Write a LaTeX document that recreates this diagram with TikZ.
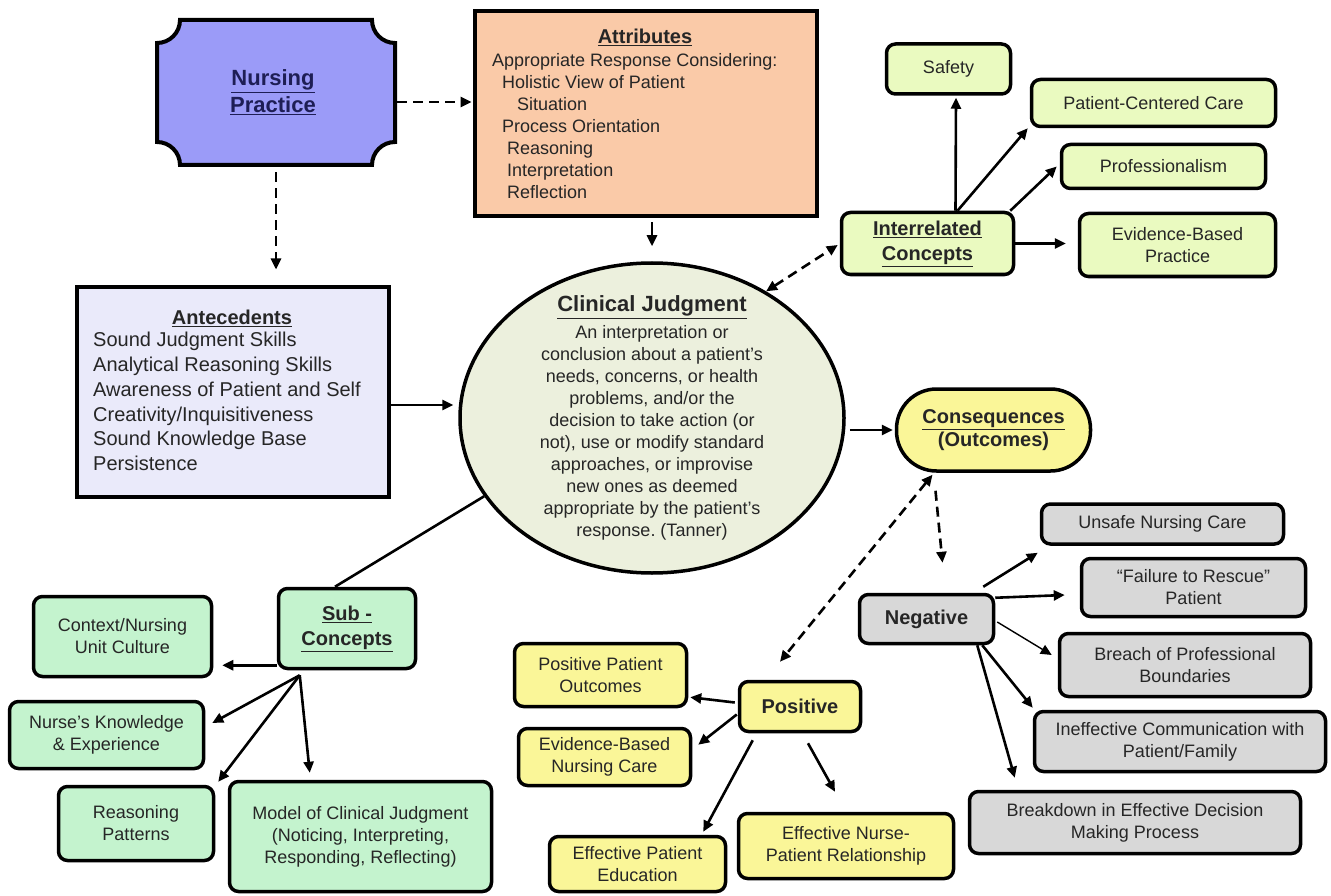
\documentclass[tikz,border=0pt]{standalone}
\usepackage{fontspec}
\setmainfont{Liberation Sans}
\usetikzlibrary{arrows.meta,calc,shapes.geometric}
\definecolor{npfill}{RGB}{155,155,248}
\definecolor{npt}{RGB}{30,30,85}
\definecolor{attrfill}{RGB}{250,202,168}
\definecolor{antfill}{RGB}{234,234,250}
\definecolor{cjfill}{RGB}{236,240,221}
\definecolor{icfill}{RGB}{234,250,192}
\definecolor{yfill}{RGB}{250,246,152}
\definecolor{gfill}{RGB}{216,216,216}
\definecolor{subfill}{RGB}{196,243,206}
\definecolor{tc}{RGB}{38,38,38}
\frenchspacing
\tikzset{
  bx/.style={draw=black, line width=3.5pt, rounded corners=9pt, text=tc,
    font=\fontsize{18}{22}\selectfont, align=center, inner sep=2pt},
  bxb/.style={bx, font=\fontsize{20}{24}\selectfont\bfseries},
  sqbox/.style={draw=black, line width=4pt, inner sep=0pt},
  txt/.style={text=tc, inner sep=0pt, font=\fontsize{18}{22}\selectfont},
  arr/.style={line width=2.6pt, -{Triangle[length=11pt,width=10pt]}},
  darr/.style={arr, dash pattern=on 10pt off 6pt},
  ddarr/.style={line width=2.6pt, dash pattern=on 10pt off 6pt,
    {Triangle[length=11pt,width=10pt]}-{Triangle[length=11pt,width=10pt]}}
}
\begin{document}
\begin{tikzpicture}[x=1pt,y=-1pt]
\useasboundingbox (0,0) rectangle (1331,896);
\fill[white] (0,0) rectangle (1331,896);

% Nursing Practice (plaque shape)
\filldraw[fill=npfill, draw=black, line width=4pt]
  (180,20) -- (372,20) .. controls (372,32.7) and (382.3,43) .. (395,43)
  -- (395,142) .. controls (382.3,142) and (372,152.3) .. (372,165)
  -- (180,165) .. controls (180,152.3) and (169.7,142) .. (157,142)
  -- (157,43) .. controls (169.7,43) and (180,32.7) .. (180,20) -- cycle;
\node[inner sep=0pt, minimum width=238pt, minimum height=145pt] (np) at (276,92.5) {};
\node[text=npt, inner sep=0pt, align=center, font=\fontsize{22}{27}\selectfont\bfseries] (nptext) at (273,92.5) {\underline{Nursing}\\\underline{Practice}};

% Attributes
\node[sqbox, fill=attrfill, minimum width=342pt, minimum height=205pt] (attr) at (645.5,114) {};
\node[txt, font=\fontsize{20}{24}\selectfont\bfseries] (attrtitle) at (645,37) {\underline{Attributes}};
\node[txt, anchor=north west, align=left] (attrbody) at (492,53) {Appropriate Response Considering:\\
\hspace*{10pt}Holistic View of Patient\\
\hspace*{25pt}Situation\\
\hspace*{10pt}Process Orientation\\
\hspace*{15pt}Reasoning\\
\hspace*{15pt}Interpretation\\
\hspace*{15pt}Reflection};

% Antecedents
\node[sqbox, fill=antfill, minimum width=312pt, minimum height=210pt] (ant) at (232.5,391.5) {};
\node[txt, font=\fontsize{20}{24}\selectfont\bfseries] (anttitle) at (232,318) {\underline{Antecedents}};
\node[txt, anchor=north west, align=left, font=\fontsize{20}{24.8}\selectfont] (antbody) at (93,332) {Sound Judgment Skills\\
Analytical Reasoning Skills\\
Awareness of Patient and Self\\
Creativity/Inquisitiveness\\
Sound Knowledge Base\\
Persistence};

% Clinical Judgment ellipse
\node[draw=black, ellipse, line width=3.5pt, fill=cjfill, minimum width=384pt, minimum height=310pt, inner sep=0pt] (cj) at (652,418) {};
\node[txt, font=\fontsize{22}{26}\selectfont\bfseries] (cjtitle) at (652,307) {\underline{Clinical Judgment}};
\node[txt, align=center] (cjbody) at (652,433) {An interpretation or\\
conclusion about a patient’s\\
needs, concerns, or health\\
problems, and/or the\\
decision to take action (or\\
not), use or modify standard\\
approaches, or improvise\\
new ones as deemed\\
appropriate by the patient’s\\
response. (Tanner)};

% Interrelated concepts
\node[bxb, fill=icfill, minimum width=172pt, minimum height=62pt, font=\fontsize{20}{25}\selectfont\bfseries] (ic) at (927.5,243.5) {\underline{Interrelated}\\\underline{Concepts}};
\node[bx, fill=icfill, minimum width=124pt, minimum height=50pt] (safety) at (948.5,69) {Safety};
\node[bx, fill=icfill, minimum width=244pt, minimum height=47pt] (pcc) at (1153.5,103) {Patient-Centered Care};
\node[bx, fill=icfill, minimum width=204pt, minimum height=44pt] (prof) at (1163.5,166.5) {Professionalism};
\node[bx, fill=icfill, minimum width=196pt, minimum height=63pt] (ebp) at (1177.5,245) {Evidence-Based\\Practice};

% Consequences
\node[bxb, fill=yfill, rounded corners=40pt, minimum width=194pt, minimum height=82pt, font=\fontsize{20}{23}\selectfont\bfseries] (cons) at (993.5,430) {\underline{Consequences}\\(Outcomes)};

% Negative branch
\node[bxb, fill=gfill, minimum width=134pt, minimum height=49pt] (neg) at (926.5,619) {Negative};
\node[bx, fill=gfill, minimum width=242pt, minimum height=40pt] (unsafe) at (1162.5,524) {Unsafe Nursing Care};
\node[bx, fill=gfill, minimum width=224pt, minimum height=58pt] (fail) at (1193.5,587.5) {“Failure to Rescue”\\Patient};
\node[bx, fill=gfill, minimum width=251pt, minimum height=63pt] (breach) at (1185,665) {Breach of Professional\\Boundaries};
\node[bx, fill=gfill, minimum width=291pt, minimum height=60pt] (ineff) at (1180,741.5) {Ineffective Communication with\\Patient/Family};
\node[bx, fill=gfill, minimum width=331pt, minimum height=62pt] (breakd) at (1135,822.5) {Breakdown in Effective Decision\\Making Process};

% Positive branch
\node[bxb, fill=yfill, minimum width=121pt, minimum height=50pt] (pos) at (800,706.5) {Positive};
\node[bx, fill=yfill, minimum width=172pt, minimum height=63pt] (ppo) at (600.5,675) {Positive Patient\\Outcomes};
\node[bx, fill=yfill, minimum width=172pt, minimum height=57pt] (ebnc) at (604.5,757) {Evidence-Based\\Nursing Care};
\node[bx, fill=yfill, minimum width=176pt, minimum height=55pt] (epe) at (637.5,864) {Effective Patient\\Education};
\node[bx, fill=yfill, minimum width=215pt, minimum height=65pt] (enpr) at (846,846) {Effective Nurse-\\Patient Relationship};

% Sub-concepts
\node[bxb, fill=subfill, minimum width=137pt, minimum height=80pt, font=\fontsize{20}{25}\selectfont\bfseries] (sub) at (347,628.5) {\underline{Sub -}\\\underline{Concepts}};
\node[bx, fill=subfill, minimum width=178pt, minimum height=80pt] (ctx) at (122.5,636.5) {Context/Nursing\\Unit Culture};
\node[bx, fill=subfill, minimum width=194pt, minimum height=67pt] (nk) at (106.5,735) {Nurse’s Knowledge\\\& Experience};
\node[bx, fill=subfill, minimum width=155pt, minimum height=74pt] (rp) at (136,823.5) {Reasoning\\Patterns};
\node[bx, fill=subfill, minimum width=262pt, minimum height=110pt] (mcj) at (360.5,836.5) {Model of Clinical Judgment\\(Noticing, Interpreting,\\Responding, Reflecting)};

% Connectors
\draw[darr] ($(np.east)+(2,9.5)$) -- ($(attr.west|-np.east)+(-1,9.5)$);
\draw[darr, shorten <=7pt, shorten >=15pt] (np.south) -- (np.south |- ant.north);
\draw[arr, shorten >=5pt] ($(ant.east)+(0,13.5)$) -- ($(cj.west|-ant.east)+(0,13.5)$);
\draw[arr, shorten <=4pt, shorten >=15pt] (attr.south -| cj.north) -- (cj.north);
\draw[ddarr] (cj.48) -- ($(ic.west)+(-2,1.5)$);
\draw[arr] ($(ic.north)+(28,0)$) -- ($(safety.south)+(7.5,2)$);
\draw[arr] ($(ic.north)+(30,0)$) -- ($(pcc.south west)+(-2,0)$);
\draw[arr] ($(ic.north east)+(-5,0)$) -- ($(prof.west)+(-3,0)$);
\draw[arr, shorten >=12pt] (ic.east) -- (ebp.west|-ic.east);
\draw[arr, shorten >=2pt] ($(cj.east|-cons.west)+(4,0)$) -- (cons.west);
\draw[darr] ($(cons.south)+(-58,18)$) -- ($(neg.north)+(16,-30)$);
\draw[ddarr] ($(cons.south)+(-61,2)$) -- ($(pos.north)+(-20,-18)$);
\draw[arr] ($(neg.north east)+(-12,-6)$) -- ($(unsafe.south west)+(-2,7)$);
\draw[arr] ($(neg.north east)+(0,5)$) -- ($(fail.west)+(-15,7.5)$);
\draw[arr, line width=1.4pt] ($(neg.east)+(2,3)$) -- ($(breach.west)+(-6,-10)$);
\draw[arr] ($(neg.south east)+(-13,0)$) -- ($(ineff.north west)+(0,-2)$);
\draw[arr] ($(neg.south east)+(-18,0)$) -- ($(breakd.north west)+(47,-12)$);
\draw[arr] ($(pos.west)+(-3,-4)$) -- ($(ppo.south east)+(2,-11)$);
\draw[arr] ($(pos.west)+(-1,8)$) -- ($(ebnc.north east)+(6,18)$);
\draw[arr] ($(pos.south west)+(15,7)$) -- ($(epe.north east)+(-24,-3)$);
\draw[arr] ($(pos.south)+(8,10)$) -- ($(enpr.north)+(-11,-20)$);
\draw[line width=2.6pt] (cj.205) -- ($(sub.north)+(-12,0)$);
\draw[arr] ($(sub.south west)+(0,-5)$) -- ($(ctx.east|-sub.south west)+(9,-5)$);
\draw[arr] ($(sub.south west)+(23,5)$) -- ($(nk.east)+(7,-12)$);
\draw[arr] ($(sub.south west)+(23,5)$) -- ($(rp.north east)+(3,-3)$);
\draw[arr] ($(sub.south west)+(23,5)$) -- ($(mcj.north west)+(82,-7)$);
\end{tikzpicture}
\end{document}
